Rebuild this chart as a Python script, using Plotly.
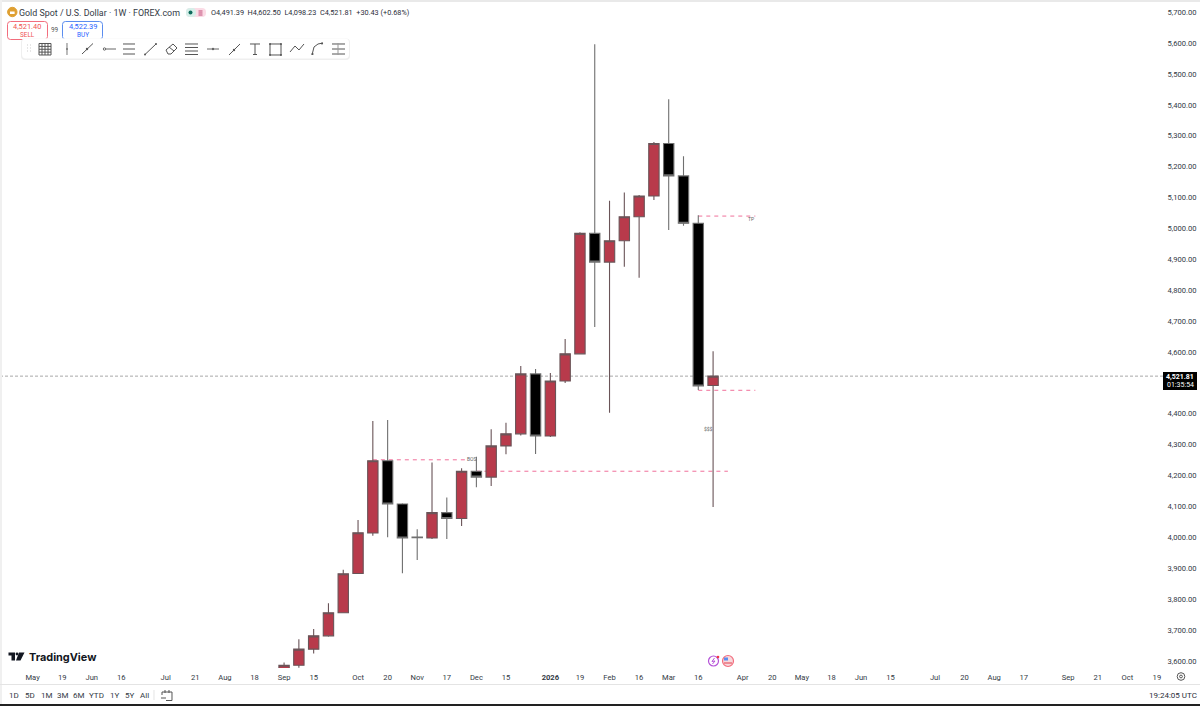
import plotly.graph_objects as go

# Weekly OHLC for XAU/USD
weeks = ["2025-09-01","2025-09-08","2025-09-15","2025-09-22","2025-09-29","2025-10-06","2025-10-13",
         "2025-10-20","2025-10-27","2025-11-03","2025-11-10","2025-11-17","2025-11-24","2025-12-01",
         "2025-12-08","2025-12-15","2025-12-22","2025-12-29","2026-01-05","2026-01-12","2026-01-19",
         "2026-01-26","2026-02-02","2026-02-09","2026-02-16","2026-02-23","2026-03-02","2026-03-09",
         "2026-03-16","2026-03-23"]
opens  = [3450,3586,3638,3681,3756,3883,4014,4248,4108,4001,3998,4080,4061,4214,4195,4296,4335,4529,4328,
          4506,4594,4984,4891,4960,5038,5105,5275,5170,5017,4491.39]
highs  = [3595,3670,3703,3787,3895,4056,4377,4380,4110,4026,4242,4129,4224,4261,4350,4371,4555,4545,4532,
          4642,4988,5596,5090,5116,5108,5280,5418,5234,5043,4602.50]
lows   = [3440,3578,3624,3678,3755,3882,4005,4000,3884,3927,3995,3995,4037,4162,4166,4269,4330,4270,4325,
          4500,4592,4681,4403,4876,4840,5092,4995,5009,4477,4098.23]
closes = [3586,3638,3681,3756,3882,4015,4248,4108,3998,3999,4080,4061,4214,4195,4296,4335,4529,4328,4506,
          4594,4984,4891,4960,5038,5105,5275,5170,5017,4490,4521.81]

# Marked structure levels: start, end, price
level_starts = ["2025-10-13","2025-12-01","2026-03-16","2026-03-16"]
level_ends   = ["2025-11-27","2026-03-30","2026-04-12","2026-04-12"]
level_prices = [4251,4214,5040,4476]

# Small labels on the chart: text, date, price
note_texts  = ["BOS","TP","$$$"]
note_dates  = ["2025-11-29","2026-04-10","2026-03-21"]
note_prices = [4253,5030,4350]

last_price = 4521.81
# 4,500 is left out: the last price tag sits on that row of the scale
price_ticks = [3600,3700,3800,3900,4000,4100,4200,4300,4400,4600,4700,4800,4900,
               5000,5100,5200,5300,5400,5500,5600,5700]
time_tick_dates = ["2025-04-21","2025-05-05","2025-05-19","2025-06-02","2025-06-16","2025-07-07","2025-07-21",
                   "2025-08-04","2025-08-18","2025-09-01","2025-09-15","2025-10-06","2025-10-20","2025-11-03",
                   "2025-11-17","2025-12-01","2025-12-15","2026-01-05","2026-01-19","2026-02-02","2026-02-16",
                   "2026-03-02","2026-03-16","2026-04-06","2026-04-20","2026-05-04","2026-05-18","2026-06-01",
                   "2026-06-15","2026-07-06","2026-07-20","2026-08-03","2026-08-17","2026-09-07","2026-09-21",
                   "2026-10-05","2026-10-19"]
time_tick_text = ["21","May","19","Jun","16","Jul","21","Aug","18","Sep","15","Oct","20","Nov","17","Dec","15",
                  "<b>2026</b>","19","Feb","16","Mar","16","Apr","20","May","18","Jun","15","Jul","20","Aug","17",
                  "Sep","21","Oct","19"]
range_buttons = ["1D","5D","1M","3M","6M","YTD","1Y","5Y","All"]
range_button_x = [14,30,46,62,78,96,114,129,144]

W, H = 1200, 706
FONT = "Roboto"
INK = "#4a4e58"

def fx(x): return x / W
def fy(y): return 1 - y / H

def path(*subpaths):
    """Build an SVG path in paper coordinates from pixel-based polylines."""
    out = []
    for pts in subpaths:
        out.append("M" + " L".join(f"{fx(a):.5f},{fy(b):.5f}" for a, b in pts))
    return " ".join(out)

shapes, notes = [], []

def line(*subpaths, color=INK, width=1):
    shapes.append(dict(type="path", xref="paper", yref="paper", path=path(*subpaths),
                       line=dict(color=color, width=width), layer="above"))

def rect(x0, y0, x1, y1, fill="rgba(0,0,0,0)", color="rgba(0,0,0,0)", width=1, layer="above"):
    shapes.append(dict(type="rect", xref="paper", yref="paper", x0=fx(x0), x1=fx(x1), y0=fy(y0), y1=fy(y1),
                       fillcolor=fill, line=dict(color=color, width=width), layer=layer))

def round_rect(x0, y0, x1, y1, r, fill="#ffffff", color="rgba(0,0,0,0)", width=1):
    """Rounded box, drawn as a path in paper coordinates."""
    p = lambda a, b: f"{fx(a):.5f},{fy(b):.5f}"
    d = (f"M{p(x0 + r, y0)} L{p(x1 - r, y0)} Q{p(x1, y0)} {p(x1, y0 + r)} L{p(x1, y1 - r)} "
         f"Q{p(x1, y1)} {p(x1 - r, y1)} L{p(x0 + r, y1)} Q{p(x0, y1)} {p(x0, y1 - r)} "
         f"L{p(x0, y0 + r)} Q{p(x0, y0)} {p(x0 + r, y0)} Z")
    shapes.append(dict(type="path", xref="paper", yref="paper", path=d, fillcolor=fill,
                       line=dict(color=color, width=width), layer="above"))

def circle(cx, cy, r, fill="rgba(0,0,0,0)", color="rgba(0,0,0,0)", width=1):
    shapes.append(dict(type="circle", xref="paper", yref="paper", x0=fx(cx - r), x1=fx(cx + r),
                       y0=fy(cy - r), y1=fy(cy + r), fillcolor=fill, line=dict(color=color, width=width),
                       layer="above"))

def text(x, y, s, size=8, color="#333", anchor="left", family=FONT):
    notes.append(dict(xref="paper", yref="paper", x=fx(x), y=fy(y), text=s, showarrow=False,
                      xanchor=anchor, yanchor="middle", align=anchor, borderpad=0, borderwidth=0,
                      font=dict(size=size, color=color, family=family)))

# Window frame
rect(0, 0, 1200, 2, fill="#e9e9e9")
rect(0, 0, 2, 706, fill="#f0f0f0")
rect(0, 704, 1200, 706, fill="#222222")
line([(0, 684.5), (1200, 684.5)], color="#e4e4e4")
line([(154, 690), (154, 700)], color="#e4e4e4")

# Horizontal levels and last price line, under the candles
for start, end, price in zip(level_starts, level_ends, level_prices):
    shapes.append(dict(type="line", xref="x", yref="y", x0=start, x1=end, y0=price, y1=price, layer="below",
                       line=dict(color="#f0709a", width=1, dash="4px,4px")))
shapes.append(dict(type="line", xref="paper", yref="y", x0=0, x1=fx(1163), y0=last_price, y1=last_price,
                   layer="below", line=dict(color="#a8a8a8", width=1, dash="3px,2px")))

for s, d, p in zip(note_texts, note_dates, note_prices):
    notes.append(dict(x=d, y=p, xref="x", yref="y", text=s, showarrow=False,
                      font=dict(size=5, color="#666", family=FONT)))

# Header
circle(12.3, 12, 4.7, fill="#dfa032", color="#dfa032")
rect(10, 11.5, 14.6, 14, fill="#ffffff")
text(19, 12.5, "Gold Spot / U.S. Dollar · 1W · FOREX.com", size=8.9, color="#333a45")
round_rect(186, 8, 206, 17, 4, fill="#fbdce6")
round_rect(186, 8, 196, 17, 4, fill="#d6efe9")
circle(190.5, 12.5, 2, fill="#0d6b5c")
line([(198.5, 11), (202.5, 11)], [(198.5, 13), (202.5, 13)], [(198.5, 15), (202.5, 15)], color="#c04a78")
text(210.5, 12.5, "O4,491.39  H4,602.50  L4,098.23  C4,521.81  +30.43 (+0.68%)", size=7.3, color="#2a2e39")

# Sell / buy buttons
round_rect(7.5, 21.5, 47.5, 39.5, 3, color="#f26d7d")
text(27.5, 26.5, "4,521.40", size=7.4, color="#ef5350", anchor="center")
text(27.5, 34.5, "SELL", size=6.4, color="#ef5350", anchor="center")
text(55, 29.5, "99", size=6.4, color="#555", anchor="center")
round_rect(62.5, 21.5, 102.5, 39.5, 3, color="#5b8def")
text(82.5, 26.5, "4,522.39", size=7.4, color="#2962ff", anchor="center")
text(82.5, 34.5, "BUY", size=6.4, color="#2962ff", anchor="center")

# Floating drawing toolbar
round_rect(21, 38.5, 350, 60, 4, fill="#efefef")
round_rect(22, 38.5, 349, 58.5, 4)
for gy in (45, 48, 51):
    line([(27, gy), (28, gy)], [(30, gy), (31, gy)], color="#cccccc")
grid = []
for k in range(5):
    grid.append([(39 + 3 * k, 43.5), (39 + 3 * k, 55)])
    grid.append([(39, 43.5 + 2.875 * k), (51, 43.5 + 2.875 * k)])
line(*grid, color="#555")
line([(67, 43), (67, 55)], color="#777"); circle(67, 49, 1, fill="#777")
line([(82, 54), (93, 43.5)], color="#555"); circle(87, 49, 1.2, fill="#555")
line([(103, 49), (116, 49)], color="#666"); circle(104.5, 49, 1.2, fill="#fff", color="#666")
line([(123, 44), (135, 44)], [(123, 49), (135, 49)], [(123, 54), (135, 54)], color="#555")
line([(145, 54.5), (156, 44)], color="#555"); circle(145, 54.5, 1, fill="#555"); circle(156, 44, 1, fill="#555")
line([(166, 50), (173, 44), (177, 48), (171, 54), (168, 54), (166, 50)], [(169, 47), (174, 51)], color="#555")
line([(185, 44), (198, 44)], [(185, 47.5), (198, 47.5)], [(185, 51), (198, 51)], [(185, 54.5), (198, 54.5)], color="#555")
line([(207, 49), (219, 49)], color="#666"); circle(213, 49, 1.2, fill="#666")
line([(229, 55), (240, 44)], color="#555"); circle(234, 50, 1.2, fill="#555")
line([(250, 44), (260, 44)], [(255, 44), (255, 54.5)], [(253, 54.5), (257, 54.5)], color="#555")
line([(270, 44), (281, 44), (281, 55), (270, 55), (270, 44)], color="#555")
for cx, cy in ((270, 44), (281, 44), (281, 55), (270, 55)):
    circle(cx, cy, 1, fill="#555")
line([(290, 52), (295, 46), (299, 50), (304, 44)], color="#555")
line([(312, 55), (314, 47), (318, 44), (323, 43)], color="#555"); circle(312.5, 54, 1.1, fill="#555"); circle(322, 43.5, 1.1, fill="#555")
line([(332, 44), (345, 44)], [(332, 49), (345, 49)], [(332, 54), (345, 54)], color="#555")
line([(338, 43), (338, 55)], color="#999")

# Logo
shapes.append(dict(type="path", xref="paper", yref="paper", layer="above", fillcolor="#131722", line=dict(width=0),
                   path=path([(8.5, 652.5), (15, 652.5), (15, 660.5), (11.5, 660.5), (11.5, 655.5), (8.5, 655.5), (8.5, 652.5)],
                             [(19, 652.5), (24.5, 652.5), (20.5, 660.5), (16, 660.5), (19, 652.5)]) + " Z"))
circle(17, 654, 1.4, fill="#131722")
text(28.5, 656.5, "<b>TradingView</b>", size=10.9, color="#131722", family="Inter")

# Event icons on the time axis
circle(713.5, 661, 5, fill="#ffffff", color="#b553d8", width=1.2)
line([(714.5, 658), (712, 661.5), (715, 661), (712.5, 664)], color="#b553d8")
circle(718, 657, 1.3, fill="#f23645")
circle(728, 661, 5.5, fill="#f8d8dc", color="#f26d7d", width=1.2)
rect(724, 657.5, 728, 660.5, fill="#5b8def")
line([(724, 663), (732, 663)], color="#e65a66", width=1.2)

# Bottom bar
for label, bx in zip(range_buttons, range_button_x):
    text(bx, 695.5, label, size=8, color="#333a45", anchor="center")
line([(162, 692), (172, 692), (172, 700.5), (166, 700.5)], [(165, 690), (165, 693)], [(169, 690), (169, 693)],
     [(162, 692), (162, 695)], [(161, 698), (166, 698)], color="#555")
text(1197, 695.5, "19:24:05 UTC", size=8, color="#2a2e39", anchor="right")

# Settings gear
circle(1181, 676.5, 3.8, color="#555")
circle(1181, 676.5, 1.4, color="#555")

# Last price tag
rect(1163, 372, 1197, 390, fill="#000000")
text(1180, 376.5, "<b>4,521.81</b>", size=7, color="#ffffff", anchor="center")
text(1180, 385, "01:35:54", size=7, color="#ffffff", anchor="center")

fig = go.Figure(go.Candlestick(
    x=weeks, open=opens, high=highs, low=lows, close=closes,
    increasing=dict(fillcolor="#b83a4b", line=dict(color="#6a5458", width=1.1)),
    decreasing=dict(fillcolor="#000000", line=dict(color="#707070", width=1.1)),
    whiskerwidth=0, showlegend=False, hoverinfo="skip",
))

fig.update_layout(
    width=W, height=H, autosize=False, margin=dict(l=0, r=0, t=0, b=0),
    paper_bgcolor="#ffffff", plot_bgcolor="#ffffff", boxgap=0, showlegend=False,
    font=dict(family=FONT, size=7.6, color="#333a45"),
    shapes=shapes, annotations=notes,
    xaxis=dict(domain=[0, 1162 / W], type="date", range=["2025-04-19 14:00", "2026-10-21 10:00"],
               rangeslider=dict(visible=False), showgrid=False, zeroline=False, showline=False,
               tickmode="array", tickvals=time_tick_dates, ticktext=time_tick_text,
               ticks="outside", ticklen=2, tickcolor="rgba(0,0,0,0)", tickangle=0,
               tickfont=dict(size=7.6, color="#333a45", family=FONT)),
    yaxis=dict(domain=[fy(668), fy(2)], range=[3577, 5733], side="right", anchor="x",
               showgrid=False, zeroline=False, showline=False, tickmode="array", tickvals=price_ticks,
               tickformat=",.2f", ticks="outside", ticklen=3, tickcolor="rgba(0,0,0,0)",
               tickfont=dict(size=7.6, color="#333a45", family=FONT)),
)

fig.write_html("out.html", config=dict(displayModeBar=False))
